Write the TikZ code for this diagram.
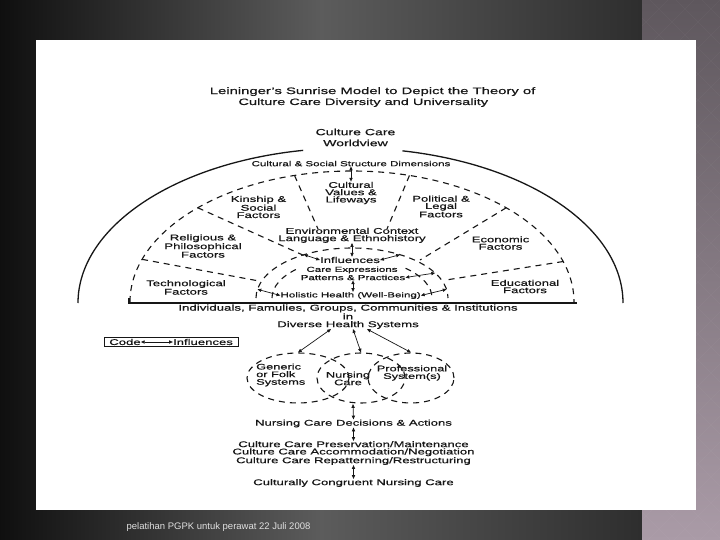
\documentclass[tikz,border=0pt]{standalone}
\usepackage{fontspec}
\setmainfont{Liberation Sans}[FakeStretch=1.58, FakeBold=0.6]
\newfontfamily\footfont{Liberation Sans}
\usetikzlibrary{positioning,arrows.meta,fit,calc,shapes.geometric}
\definecolor{ink}{RGB}{22,22,22}
\definecolor{stripTop}{RGB}{94,87,93}
\definecolor{stripBot}{RGB}{170,155,167}
\tikzset{
  lbl/.style={inner sep=0pt, align=center, text=ink, font=\fontsize{8.3bp}{7.3bp}\selectfont},
  lblsmall/.style={lbl, font=\fontsize{7.3bp}{7bp}\selectfont},
  sector/.style={draw=ink, line width=1.1bp, dash pattern=on 6bp off 5bp},
  rim/.style={draw=ink, line width=1.3bp},
  infl/.style={draw=ink, line width=0.7bp, {Triangle[length=3.8bp,width=3.2bp]}-{Triangle[length=3.8bp,width=3.2bp]}},
  pod/.style={sector, ellipse, inner sep=0pt}
}

\begin{document}
\begin{tikzpicture}[x=1bp, y=-1bp]
    \useasboundingbox (0,0) rectangle (720,540);
    % slide background
    \shade[left color=black!94, right color=black!82, middle color=black!64] (0,0) rectangle (642,540);
    \shade[top color=stripTop, bottom color=stripBot] (642,0) rectangle (720,540);
    \begin{scope}
      \clip (642,0) rectangle (720,540);
      \foreach \k in {0,26,...,860} {
        \draw[white, opacity=0.035] (642,\k) -- ++(320,-320);
        \draw[white, opacity=0.035] (642,\k-320) -- ++(320,320);
      }
    \end{scope}
    \fill[white] (36,40) rectangle (695.5,510);

    % titles
    \node[lbl, font=\fontsize{9.4bp}{11bp}\selectfont] (ttl1) at (372.6,91.6) {Leininger's Sunrise Model to Depict the Theory of};
    \node[lbl, font=\fontsize{9.2bp}{11bp}\selectfont] (ttl2) at (363.3,102.6) {Culture Care Diversity and Universality};
    \node[lbl, font=\fontsize{8.9bp}{11bp}\selectfont] (wv) at (355.5,137.5) {Culture Care\\Worldview};

    % the sun
    \coordinate (sun) at (350.5,303);
    \coordinate (mid) at (352,302);
    \coordinate (core) at (352,298);
    \draw[rim] ([shift={(180:272.5 and 155)}]sun) arc[start angle=180, end angle=260, x radius=272.5, y radius=155];
    \draw[rim] ([shift={(281:272.5 and 155)}]sun) arc[start angle=281, end angle=360, x radius=272.5, y radius=155];
    \draw[draw=ink, line width=1.1bp] (129,298) -- (129,303) -- (577,303);
    \draw[sector] ([shift={(180:222 and 131)}]mid) arc[start angle=180, end angle=360, x radius=222, y radius=131];
    \draw[sector] ([shift={(255:222 and 131)}]mid) -- (318,229);
    \draw[sector] ([shift={(285:222 and 131)}]mid) -- (387,229);
    \draw[sector] ([shift={(226:222 and 131)}]mid) -- (305,256);
    \draw[sector] ([shift={(199:222 and 131)}]mid) -- (259,281);
    \draw[sector] ([shift={(314:222 and 131)}]mid) -- (420,260);
    \draw[sector] ([shift={(342:222 and 131)}]mid) -- (446,280);
    \draw[sector] ([shift={(180:96 and 50)}]core) arc[start angle=180, end angle=360, x radius=96, y radius=50];
    \draw[sector] ([shift={(180:80 and 40)}]core) arc[start angle=180, end angle=228, x radius=80, y radius=40];
    \draw[sector] ([shift={(312:80 and 40)}]core) arc[start angle=312, end angle=360, x radius=80, y radius=40];

    \node[lblsmall] (struct) at (351,163.6) {Cultural \& Social Structure Dimensions};
    \node[lbl] (vals) at (351,193) {Cultural\\Values \&\\Lifeways};
    \node[lbl] (kin) at (258.5,207) {Kinship \&\\Social\\Factors};
    \node[lbl] (pol) at (441,206.5) {Political \&\\Legal\\Factors};
    \node[lbl] (env) at (352,235.3) {Environmental Context\\Language \& Ethnohistory};
    \node[lbl] (rel) at (203,246) {Religious \&\\Philosophical\\Factors};
    \node[lbl] (econ) at (500.5,243) {Economic\\Factors};
    \node[lbl] (tech) at (186,287.4) {Technological\\Factors};
    \node[lbl] (edu) at (525,286.5) {Educational\\Factors};
    \node[lbl] (infl) at (350,260) {Influences};
    \node[lblsmall] (expr) at (352,270) {Care Expressions};
    \node[lblsmall] (patt) at (353,277.5) {Patterns \& Practices};
    \node[lblsmall] (holis) at (350.6,295.5) {Holistic Health (Well-Being)};

    \coordinate (aL) at ([shift={(240:96 and 50)}]core);
    \coordinate (aR) at ([shift={(300:96 and 50)}]core);
    \coordinate (pR) at ([shift={(330:96 and 50)}]core);
    \coordinate (hL) at ([shift={(190:96 and 50)}]core);
    \coordinate (hR) at ([shift={(350:96 and 50)}]core);
    \draw[infl] (struct.south) -- (vals.north);
    \draw[infl] (env.south) -- (env.south |- infl.north);
    \draw[infl] (infl.west) -- (aL);
    \draw[infl] (infl.east) -- (aR);
    \draw[infl] (patt.east) -- (pR);
    \draw[infl] (patt.south) -- (patt.south |- holis.north);
    \draw[infl] (holis.west) -- (hL);
    \draw[infl] (holis.east) -- (hR);

    % health systems
    \node[lbl, font=\fontsize{8.4bp}{7.7bp}\selectfont] (indiv) at (348,316.7) {Individuals, Famulies, Groups, Communities \& Institutions\\in\\Diverse Health Systems};

    \node[lbl] (code) at (125,342) {Code};
    \node[lbl, right=32bp of code] (codeinfl) {Influences};
    \draw[infl] (code) -- (codeinfl);
    \node[draw=ink, line width=0.6bp, fit=(code)(codeinfl), inner xsep=5bp, inner ysep=1.5bp] (codebox) {};

    \node[pod, minimum width=102bp, minimum height=50bp] (folk) at (298,378) {};
    \node[pod, minimum width=88bp, minimum height=50bp] (nurse) at (361,378) {};
    \node[pod, minimum width=86bp, minimum height=50bp] (prof) at (411,378) {};
    \node[lbl, font=\fontsize{8.1bp}{7.6bp}\selectfont, align=left, anchor=west] (folktxt) at (256,375) {Generic\\or Folk\\Systems};
    \node[lbl, font=\fontsize{8.1bp}{7.6bp}\selectfont] (nursetxt) at (348,378.5) {Nursing\\Care};
    \node[lbl, font=\fontsize{8.1bp}{7.6bp}\selectfont] (proftxt) at (412,373) {Professional\\System(s)};
    \draw[infl] ([xshift=-17bp]indiv.south) -- (folk.north);
    \draw[infl] ([xshift=5bp]indiv.south) -- (nurse.north);
    \draw[infl] ([xshift=19bp]indiv.south) -- (prof.north);

    \coordinate (podbot) at (353,404);
    \node[lbl] (decide) at (353.5,423.5) {Nursing Care Decisions \& Actions};
    \node[lbl] (modes) at (353.5,453) {Culture Care Preservation/Maintenance\\Culture Care Accommodation/Negotiation\\Culture Care Repatterning/Restructuring};
    \node[lbl] (congr) at (353.5,483) {Culturally Congruent Nursing Care};
    \draw[infl] (podbot) -- (decide.north);
    \draw[infl] (decide.south) -- (modes.north);
    \draw[infl] (modes.south) -- (congr.north);

    \node[font=\footfont\fontsize{9.5bp}{11bp}\selectfont, text=white!88!black, inner sep=0pt] (foot) at (218.5,527) {pelatihan PGPK untuk perawat 22 Juli 2008};
\end{tikzpicture}
\end{document}
